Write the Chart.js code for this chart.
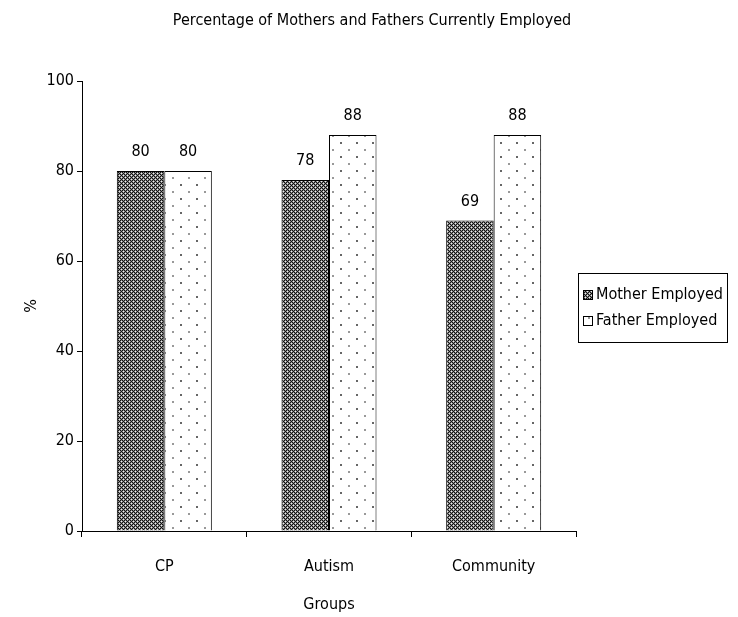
<!DOCTYPE html>
<html>
<head>
<meta charset="utf-8">
<script src="https://cdn.jsdelivr.net/npm/chart.js@4"></script>
<style>
  html, body { margin: 0; padding: 0; background: #fff; }
  #wrap { width: 738px; height: 617px; }
</style>
</head>
<body>
<div id="wrap"><canvas id="chart"></canvas></div>
<script>
const groups = ["CP", "Autism", "Community"];
const motherEmployed = [80, 78, 69];
const fatherEmployed = [80, 88, 88];
const yTicks = [0, 20, 40, 60, 80, 100];

const FONT = '"DejaVu Sans Condensed", "Liberation Sans Narrow", "Arial Narrow", sans-serif';

function makeMotherPattern() {
    let c = document.createElement("canvas");
    c.width = 8; c.height = 8;
    let g = c.getContext("2d");
    let rows = [
        "KGKGKGKG",
        "GWGKGWGK",
        "KGKGKGKG",
        "GKGWGKGW",
        "KGKGKGKG",
        "GWGKGWGK",
        "KGKGKGKG",
        "GKGWGKGW"
    ];
    let col = { K: "#111", G: "#8a8a8a", W: "#eeeeee" };
    rows.forEach((r, y) => {
        for (let x = 0; x < r.length; x++) {
            g.fillStyle = col[r[x]];
            g.fillRect(x, y, 1, 1);
        }
    });
    return g.createPattern(c, "repeat");
}

function makeFatherPattern() {
    let c = document.createElement("canvas");
    c.width = 16; c.height = 14;
    let g = c.getContext("2d");
    g.fillStyle = "#ffffff";
    g.fillRect(0, 0, 16, 14);
    g.fillStyle = "#666";
    g.fillRect(4, 2, 2, 2);
    g.fillStyle = "#999";
    g.fillRect(12, 9, 2, 2);
    return g.createPattern(c, "repeat");
}

const motherFill = makeMotherPattern();
const fatherFill = makeFatherPattern();

const extras = {
    id: "extras",
    afterDatasetsDraw(chart) {
        let ctx = chart.ctx;
        ctx.save();
        ctx.font = "16px " + FONT;
        ctx.fillStyle = "#000";
        ctx.textAlign = "center";
        ctx.textBaseline = "bottom";
        chart.data.datasets.forEach((ds, i) => {
            chart.getDatasetMeta(i).data.forEach((bar, j) => {
                ctx.fillText(ds.data[j], bar.x, bar.y - 11);
            });
        });
        ctx.restore();
    },
    afterDraw(chart) {
        let ctx = chart.ctx;
        ctx.save();
        // title, centred over the whole canvas
        ctx.font = "16px " + FONT;
        ctx.fillStyle = "#000";
        ctx.textAlign = "center";
        ctx.textBaseline = "middle";
        ctx.fillText("Percentage of Mothers and Fathers Currently Employed", 372, 21);

        // legend box
        let x = 578, y = 273, w = 149, h = 69;
        ctx.strokeStyle = "#000";
        ctx.lineWidth = 1;
        ctx.strokeRect(x + 0.5, y + 0.5, w, h);
        ctx.font = "16px " + FONT;
        ctx.textAlign = "left";
        let fills = [motherFill, fatherFill];
        chart.data.datasets.forEach((ds, i) => {
            let cy = y + 22 + i * 26;
            ctx.fillStyle = fills[i];
            ctx.fillRect(x + 5, cy - 5, 10, 10);
            ctx.strokeStyle = "#000";
            ctx.strokeRect(x + 5.5, cy - 4.5, 9, 9);
            ctx.fillStyle = "#000";
            ctx.fillText(ds.label, x + 18, cy);
        });
        ctx.restore();
    }
};

new Chart(document.getElementById("chart"), {
    type: "bar",
    data: {
        labels: groups,
        datasets: [
            {
                label: "Mother Employed",
                data: motherEmployed,
                backgroundColor: motherFill,
                borderColor: "#000",
                borderWidth: 1
            },
            {
                label: "Father Employed",
                data: fatherEmployed,
                backgroundColor: fatherFill,
                borderColor: "#000",
                borderWidth: 1
            }
        ]
    },
    options: {
        responsive: true,
        maintainAspectRatio: false,
        animation: false,
        devicePixelRatio: 1,
        layout: { padding: { top: 81, right: 162, bottom: 0, left: 0 } },
        datasets: { bar: { categoryPercentage: 0.577, barPercentage: 1 } },
        plugins: {
            legend: { display: false },
            tooltip: { enabled: false },
            title: { display: false }
        },
        scales: {
            x: {
                afterFit(scale) {
                    scale.height = 86;
                },
                grid: {
                    display: true,
                    offset: true,
                    drawOnChartArea: false,
                    color: "#000",
                    tickLength: 6
                },
                border: { display: true, color: "#000", width: 1 },
                ticks: {
                    color: "#000",
                    padding: 20,
                    font: { family: FONT, size: 16 }
                },
                title: {
                    display: true,
                    text: "Groups",
                    color: "#000",
                    font: { family: FONT, size: 16 },
                    padding: { top: 0, bottom: 3 }
                }
            },
            y: {
                min: 0,
                max: 100,
                afterBuildTicks(scale) {
                    scale.ticks = yTicks.map(v => ({ value: v }));
                },
                afterFit(scale) {
                    scale.width = 82;
                },
                grid: {
                    display: true,
                    drawOnChartArea: false,
                    color: "#000",
                    tickLength: 5
                },
                border: { display: true, color: "#000", width: 1 },
                ticks: {
                    color: "#000",
                    padding: 3,
                    font: { family: FONT, size: 16 }
                },
                title: {
                    display: true,
                    text: "%",
                    color: "#000",
                    font: { family: FONT, size: 16 },
                    padding: { top: 22, bottom: 0 }
                }
            }
        }
    },
    plugins: [extras]
});
</script>
</body>
</html>
